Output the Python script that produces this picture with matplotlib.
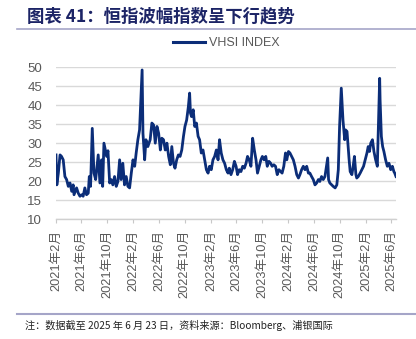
import matplotlib
matplotlib.use("Agg")
import matplotlib.pyplot as plt
import matplotlib.dates as mdates
from matplotlib.lines import Line2D
import pandas as pd

plt.rcParams['font.family'] = ['Liberation Sans', 'Noto Sans CJK SC', 'DejaVu Sans']

title = "图表 41：恒指波幅指数呈下行趋势"
series_name = "VHSI INDEX"
note = "注：数据截至 2025 年 6 月 23 日，资料来源：Bloomberg、浦银国际"

dates = [
    "2021-02-01", "2021-02-05", "2021-02-12", "2021-02-20", "2021-02-27", "2021-03-07", "2021-03-15",
    "2021-03-23", "2021-03-31", "2021-04-08", "2021-04-16", "2021-04-23", "2021-04-27", "2021-05-09",
    "2021-05-17", "2021-05-25", "2021-06-02", "2021-06-09", "2021-06-17", "2021-06-25", "2021-07-03",
    "2021-07-08", "2021-07-14", "2021-07-22", "2021-07-30", "2021-08-07", "2021-08-19", "2021-08-27",
    "2021-09-04", "2021-09-09", "2021-09-15", "2021-09-28", "2021-10-04", "2021-10-12", "2021-10-19",
    "2021-10-27", "2021-11-04", "2021-11-12", "2021-11-20", "2021-11-28", "2021-12-05", "2021-12-13",
    "2021-12-21", "2021-12-29", "2022-01-06", "2022-01-14", "2022-01-22", "2022-01-30", "2022-02-07",
    "2022-02-14", "2022-02-22", "2022-03-02", "2022-03-14", "2022-03-18", "2022-03-26", "2022-04-01",
    "2022-04-10", "2022-04-21", "2022-04-29", "2022-05-07", "2022-05-15", "2022-05-23", "2022-05-31",
    "2022-06-08", "2022-06-15", "2022-06-23", "2022-07-01", "2022-07-09", "2022-07-17", "2022-07-25",
    "2022-08-01", "2022-08-09", "2022-08-16", "2022-08-24", "2022-09-01", "2022-09-09", "2022-09-17",
    "2022-09-25", "2022-10-02", "2022-10-10", "2022-10-18", "2022-10-24", "2022-10-28", "2022-11-02",
    "2022-11-10", "2022-11-17", "2022-11-25", "2022-12-03", "2022-12-10", "2022-12-18", "2022-12-26",
    "2023-01-03", "2023-01-11", "2023-01-19", "2023-01-26", "2023-02-03", "2023-02-11", "2023-02-19",
    "2023-02-27", "2023-03-07", "2023-03-14", "2023-03-22", "2023-03-30", "2023-04-07", "2023-04-15",
    "2023-04-23", "2023-04-29", "2023-05-07", "2023-05-15", "2023-05-23", "2023-05-31", "2023-06-07",
    "2023-06-15", "2023-06-23", "2023-07-01", "2023-07-09", "2023-07-17", "2023-07-24", "2023-08-01",
    "2023-08-09", "2023-08-17", "2023-08-25", "2023-09-02", "2023-09-09", "2023-09-17", "2023-09-25",
    "2023-10-02", "2023-10-10", "2023-10-18", "2023-10-25", "2023-11-02", "2023-11-10", "2023-11-17",
    "2023-11-25", "2023-12-03", "2023-12-11", "2023-12-19", "2023-12-27", "2024-01-03", "2024-01-11",
    "2024-01-19", "2024-01-25", "2024-02-02", "2024-02-09", "2024-02-17", "2024-02-25", "2024-03-04",
    "2024-03-12", "2024-03-20", "2024-03-27", "2024-04-04", "2024-04-12", "2024-04-20", "2024-04-28",
    "2024-05-06", "2024-05-13", "2024-05-21", "2024-05-29", "2024-06-06", "2024-06-14", "2024-06-22",
    "2024-06-29", "2024-07-07", "2024-07-15", "2024-07-23", "2024-08-05", "2024-08-09", "2024-08-15",
    "2024-08-24", "2024-08-31", "2024-09-09", "2024-09-17", "2024-09-24", "2024-09-30", "2024-10-08",
    "2024-10-16", "2024-10-24", "2024-10-28", "2024-11-04", "2024-11-08", "2024-11-14", "2024-11-19",
    "2024-11-27", "2024-12-03", "2024-12-09", "2024-12-16", "2024-12-20", "2024-12-27", "2025-01-05",
    "2025-01-13", "2025-01-21", "2025-01-29", "2025-02-06", "2025-02-12", "2025-02-18", "2025-02-24",
    "2025-03-04", "2025-03-11", "2025-03-19", "2025-03-27", "2025-04-07", "2025-04-09", "2025-04-15",
    "2025-04-21", "2025-04-27", "2025-05-05", "2025-05-13", "2025-05-21", "2025-05-29", "2025-06-06",
    "2025-06-13", "2025-06-17", "2025-06-23",
]

vhsi = [
    26.9, 19.0, 22.1, 26.9, 26.5, 25.6, 21.2,
    20.4, 18.6, 19.5, 17.3, 19.0, 16.4, 18.2,
    16.8, 16.0, 16.4, 16.0, 18.2, 16.4, 16.8,
    21.2, 18.6, 33.9, 22.1, 20.4, 26.9, 19.5,
    25.6, 18.6, 30.0, 26.5, 28.0, 19.5, 20.4,
    19.0, 21.2, 18.6, 19.9, 25.6, 20.4, 24.7,
    19.0, 21.2, 18.6, 18.2, 22.1, 25.6, 23.9,
    27.4, 30.9, 33.5, 49.3, 32.6, 25.6, 30.9,
    29.1, 30.9, 35.3, 34.8, 30.0, 34.4, 32.6,
    28.2, 31.3, 30.9, 28.2, 30.0, 26.5, 24.3,
    29.1, 24.7, 23.4, 25.6, 26.9, 26.5, 28.2,
    31.8, 34.4, 36.1, 39.6, 43.2, 37.9, 37.0,
    38.8, 34.4, 35.3, 31.8, 30.9, 27.4, 28.2,
    25.6, 23.0, 22.1, 23.9, 23.0, 25.6, 26.5,
    28.2, 25.6, 30.9, 27.4, 25.6, 24.7, 23.0,
    22.1, 23.4, 21.7, 23.0, 25.2, 23.9, 21.7,
    23.0, 22.5, 23.9, 23.4, 24.7, 26.5, 25.6,
    23.9, 31.3, 28.2, 25.6, 22.1, 23.9, 25.6,
    26.5, 25.6, 26.5, 23.9, 25.2, 24.7, 23.9,
    24.3, 23.9, 21.7, 23.0, 22.5, 22.1, 23.9,
    27.4, 25.6, 27.8, 27.4, 26.5, 25.6, 23.9,
    21.7, 20.8, 21.7, 23.0, 23.9, 23.0, 23.9,
    22.1, 22.1, 21.2, 20.4, 19.0, 19.5, 20.4,
    19.9, 21.2, 20.4, 21.2, 26.1, 20.4, 19.5,
    19.0, 18.6, 18.2, 19.0, 23.0, 34.4, 44.5,
    36.1, 30.9, 33.5, 33.1, 30.0, 25.6, 22.5,
    21.7, 23.9, 26.5, 21.7, 20.8, 21.2, 22.1,
    23.0, 23.9, 25.6, 27.4, 29.1, 27.8, 30.0,
    30.9, 27.8, 25.6, 23.9, 47.1, 41.4, 31.8,
    29.1, 27.8, 25.6, 23.9, 24.7, 23.0, 23.9,
    22.5, 22.1, 21.2,
]

y_ticks = [10, 15, 20, 25, 30, 35, 40, 45, 50]
x_start = "2021-02-01"
x_end = "2025-06-23"

W, H = 416, 339
fig = plt.figure(figsize=(W / 100, H / 100), dpi=100)
fig.patch.set_facecolor("white")

ax = fig.add_axes([56 / W, 1 - 219 / H, 340 / W, (219 - 67.3) / H])
x = pd.to_datetime(dates)
line_color = "#0b2d78"
ax.plot(x, vhsi, color=line_color, lw=2.0, solid_joinstyle="round")

ax.set_xlim(pd.Timestamp(x_start), pd.Timestamp(x_end))
ax.set_ylim(y_ticks[0], y_ticks[-1])
ax.set_yticks(y_ticks)
ax.yaxis.grid(True, color="#d9d9d9", lw=1.0)
ax.set_axisbelow(True)

ax.xaxis.set_major_locator(mdates.MonthLocator(bymonth=[2, 6, 10]))
ax.xaxis.set_major_formatter(mdates.DateFormatter("%Y年%-m月"))

for s in ["top", "right", "left"]:
    ax.spines[s].set_visible(False)
ax.spines["bottom"].set_color("#d0d0d0")
ax.spines["bottom"].set_linewidth(1.0)

ax.tick_params(axis="y", length=0, pad=10, labelsize=9.5, labelcolor="#595959")
ax.tick_params(axis="x", length=3, width=0.8, color="#c8c8c8", pad=5,
               labelsize=9.2, labelcolor="#595959", labelrotation=90)
for lab in ax.get_xticklabels():
    lab.set_ha("center")
    lab.set_va("top")

# legend
leg = ax.legend([Line2D([0], [0], color=line_color, lw=2.2)], [series_name],
                loc="center", bbox_to_anchor=(226 / W, 1 - 43 / H),
                bbox_transform=fig.transFigure, frameon=False,
                fontsize=9, handlelength=2.6, handletextpad=0.3,
                borderpad=0, borderaxespad=0)
for t in leg.get_texts():
    t.set_color("#595959")

# title and decorative rules
fig.text(27 / W, 1 - 16 / H, title, fontsize=12.5, fontweight="bold",
         color="#1c2466", ha="left", va="center",
         family=["Noto Sans CJK SC", "DejaVu Sans"])
fig.add_artist(Line2D([17 / W, 1.0], [1 - 28.5 / H, 1 - 28.5 / H],
                      transform=fig.transFigure, color="#a5a5c8", lw=1.2))
fig.add_artist(Line2D([17 / W, 1.0], [1 - 313.5 / H, 1 - 313.5 / H],
                      transform=fig.transFigure, color="#a5a5c8", lw=1.5))
fig.text(25 / W, 1 - 325 / H, note, fontsize=7.3, color="#222222",
         ha="left", va="center", family=["Noto Sans CJK SC", "DejaVu Sans"])

fig.savefig("out.png", dpi=100, facecolor="white")
